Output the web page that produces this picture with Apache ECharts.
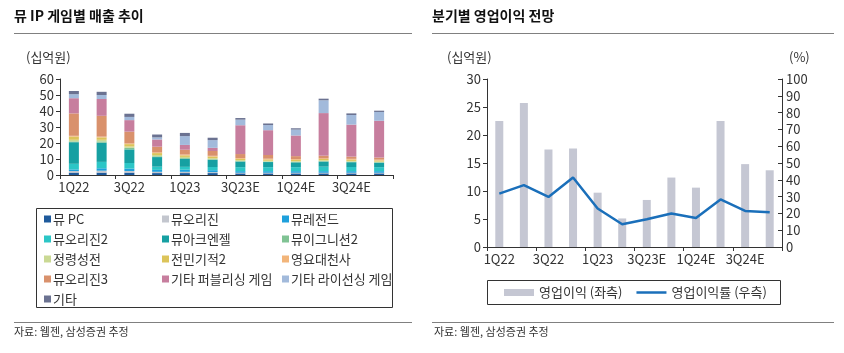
<!DOCTYPE html>
<html>
<head>
<meta charset="utf-8">
<script src="https://cdn.jsdelivr.net/npm/echarts@6/dist/echarts.min.js"></script>
<style>
html,body{margin:0;padding:0;background:#fff;}
#main{width:844px;height:353px;}
</style>
</head>
<body>
<div id="main"></div>
<script>
// 분기
var quarters = ['1Q22','2Q22','3Q22','4Q22','1Q23','2Q23','3Q23E','4Q23E','1Q24E','2Q24E','3Q24E','4Q24E'];

// 뮤 IP 게임별 매출 (십억원)
var muPC        = [1.5, 1.5, 1.5, 1.2, 1.2, 1.2, 1.0, 1.0, 1.0, 1.0, 1.0, 1.0];
var muOrigin    = [1.0, 1.2, 1.0, 0.8, 0.8, 0.6, 0.4, 0.4, 0.4, 0.4, 0.4, 0.4];
var muLegend    = [1.0, 1.5, 1.5, 1.2, 1.3, 1.2, 1.0, 1.0, 1.0, 1.0, 1.0, 1.0];
var muOrigin2   = [3.5, 4.0, 3.5, 2.0, 1.8, 2.0, 2.5, 2.5, 2.5, 2.8, 2.6, 2.5];
var muArchangel = [13.5, 12.0, 8.5, 6.0, 5.0, 4.5, 3.5, 3.2, 3.0, 3.2, 3.0, 2.8];
var muIgnition2 = [0.5, 0.8, 1.0, 0.5, 0.5, 0.4, 0.3, 0.3, 0.3, 0.3, 0.3, 0.3];
var spirit      = [1.0, 1.0, 0.8, 0.8, 0.7, 0.6, 0.6, 0.5, 0.5, 0.5, 0.5, 0.4];
var miracle2    = [2.0, 1.5, 1.5, 1.2, 1.0, 1.0, 0.8, 0.8, 0.8, 0.8, 0.8, 0.7];
var archAngel   = [0.5, 0.5, 0.5, 0.5, 0.5, 0.5, 0.5, 0.5, 0.5, 0.5, 0.5, 0.5];
var muOrigin3   = [14.0, 13.0, 7.3, 3.5, 3.0, 3.0, 2.5, 2.3, 1.8, 1.6, 1.4, 1.3];
var etcPublish  = [9.5, 10.5, 7.2, 4.5, 3.0, 2.0, 18.0, 15.5, 12.9, 26.6, 20.0, 23.0];
var etcLicense  = [2.5, 2.5, 2.0, 1.3, 5.5, 4.8, 3.5, 3.2, 3.7, 8.0, 6.0, 5.5];
var etcOther    = [2.0, 2.0, 2.0, 1.8, 2.0, 1.5, 1.0, 1.0, 0.8, 1.0, 1.0, 0.8];

// 영업이익 (십억원), 영업이익률 (%)
var opProfit = [22.5, 25.7, 17.4, 17.6, 9.7, 5.1, 8.4, 12.4, 10.6, 22.5, 14.8, 13.7];
var opMargin = [31.8, 36.8, 29.8, 41.4, 22.9, 13.5, 16.5, 19.9, 17.3, 28.3, 21.5, 20.7];

var stackDefs = [
	['뮤 PC', muPC, '#1e5a9c'],
	['뮤오리진', muOrigin, '#c3c6ce'],
	['뮤레전드', muLegend, '#1ea0dc'],
	['뮤오리진2', muOrigin2, '#2cc6c6'],
	['뮤아크엔젤', muArchangel, '#16a0a2'],
	['뮤이그니션2', muIgnition2, '#80c394'],
	['정령성전', spirit, '#cad994'],
	['전민기적2', miracle2, '#dcc45a'],
	['영요대천사', archAngel, '#f2b57a'],
	['뮤오리진3', muOrigin3, '#d9916c'],
	['기타 퍼블리싱 게임', etcPublish, '#c77e9e'],
	['기타 라이선싱 게임', etcLicense, '#a2badb'],
	['기타', etcOther, '#6b7291']
];

var FONT = '"Noto Sans CJK KR", "Noto Sans", sans-serif';
var TXT = '#333';

var chart = echarts.init(document.getElementById('main'));

var series = [];
for (var i = 0; i < stackDefs.length; i++) {
	series.push({
		name: stackDefs[i][0],
		type: 'bar',
		stack: 'rev',
		xAxisIndex: 0,
		yAxisIndex: 0,
		barWidth: 10,
		itemStyle: { color: stackDefs[i][2] },
		data: stackDefs[i][1]
	});
}
series.push({
	name: '영업이익 (좌측)',
	type: 'bar',
	xAxisIndex: 1,
	yAxisIndex: 1,
	barWidth: 8,
	itemStyle: { color: '#c5c7d3' },
	data: opProfit
});
series.push({
	name: '영업이익률 (우측)',
	type: 'line',
	xAxisIndex: 1,
	yAxisIndex: 2,
	symbol: 'none',
	lineStyle: { color: '#1a6fba', width: 2.5 },
	itemStyle: { color: '#1a6fba' },
	data: opMargin
});

function legendCol(left, names) {
	return {
		orient: 'vertical',
		left: left,
		top: 212,
		padding: 0,
		itemGap: 6,
		itemWidth: 7,
		itemHeight: 7,
		icon: 'rect',
		selectedMode: false,
		textStyle: { fontFamily: FONT, fontSize: 13, color: TXT, lineHeight: 14, padding: [0, 0, 0, -3] },
		data: names
	};
}

var axisLabelStyle = { fontFamily: FONT, fontSize: 13, color: TXT };
var axisLineStyle = { show: true, lineStyle: { color: '#333', width: 1 } };

var option = {
	animation: false,
	textStyle: { fontFamily: FONT },
	grid: [
		{ left: 60, right: 451, top: 79, bottom: 178, containLabel: false },
		{ left: 487, right: 62, top: 79, bottom: 106, containLabel: false }
	],
	legend: [
		legendCol(44, ['뮤 PC', '뮤오리진2', '정령성전', '뮤오리진3', '기타']),
		legendCol(162, ['뮤오리진', '뮤아크엔젤', '전민기적2', '기타 퍼블리싱 게임']),
		legendCol(282, ['뮤레전드', '뮤이그니션2', '영요대천사', '기타 라이선싱 게임']),
		{
			orient: 'horizontal',
			left: 504,
			top: 286,
			padding: 0,
			itemGap: 14,
			itemWidth: 30,
			itemHeight: 7,
			selectedMode: false,
			textStyle: { fontFamily: FONT, fontSize: 13, color: TXT },
			data: [
				{ name: '영업이익 (좌측)', icon: 'rect' },
				{ name: '영업이익률 (우측)', icon: 'path://M0,0L30,0L30,2.5L0,2.5Z' }
			]
		}
	],
	xAxis: [
		{
			type: 'category', gridIndex: 0, data: quarters,
			axisLine: axisLineStyle,
			axisTick: { show: true, interval: 1, length: 4, lineStyle: { color: '#333' } },
			axisLabel: Object.assign({ interval: 1, margin: 6 }, axisLabelStyle)
		},
		{
			type: 'category', gridIndex: 1, data: quarters,
			axisLine: axisLineStyle,
			axisTick: { show: true, interval: 1, length: 4, lineStyle: { color: '#333' } },
			axisLabel: Object.assign({ interval: 1, margin: 6 }, axisLabelStyle)
		}
	],
	yAxis: [
		{
			type: 'value', gridIndex: 0, min: 0, max: 60, interval: 10,
			axisLine: axisLineStyle,
			axisTick: { show: true, length: 4, lineStyle: { color: '#333' } },
			splitLine: { show: false },
			axisLabel: Object.assign({ margin: 6 }, axisLabelStyle)
		},
		{
			type: 'value', gridIndex: 1, min: 0, max: 30, interval: 5,
			axisLine: axisLineStyle,
			axisTick: { show: true, length: 4, lineStyle: { color: '#333' } },
			splitLine: { show: false },
			axisLabel: Object.assign({ margin: 6 }, axisLabelStyle)
		},
		{
			type: 'value', gridIndex: 1, position: 'right', min: 0, max: 100, interval: 10,
			axisLine: axisLineStyle,
			axisTick: { show: true, inside: true, length: 4, lineStyle: { color: '#333' } },
			splitLine: { show: false },
			axisLabel: Object.assign({ margin: 4 }, axisLabelStyle)
		}
	],
	graphic: [
		{ type: 'text', left: 14, top: 9, style: { text: '뮤 IP 게임별 매출 추이', font: 'bold 14px ' + FONT, fill: '#111' } },
		{ type: 'text', left: 432, top: 9, style: { text: '분기별 영업이익 전망', font: 'bold 14px ' + FONT, fill: '#111' } },
		{ type: 'line', shape: { x1: 14, y1: 33.5, x2: 412, y2: 33.5 }, style: { stroke: '#808080', lineWidth: 1 } },
		{ type: 'line', shape: { x1: 432, y1: 33.5, x2: 834, y2: 33.5 }, style: { stroke: '#808080', lineWidth: 1 } },
		{ type: 'line', shape: { x1: 14, y1: 322.5, x2: 412, y2: 322.5 }, style: { stroke: '#808080', lineWidth: 1 } },
		{ type: 'line', shape: { x1: 432, y1: 322.5, x2: 834, y2: 322.5 }, style: { stroke: '#808080', lineWidth: 1 } },
		{ type: 'text', left: 14, top: 326, style: { text: '자료: 웹젠, 삼성증권 추정', font: '11px ' + FONT, fill: TXT } },
		{ type: 'text', left: 434, top: 326, style: { text: '자료: 웹젠, 삼성증권 추정', font: '11px ' + FONT, fill: TXT } },
		{ type: 'text', left: 26, top: 51, style: { text: '(십억원)', font: '13px ' + FONT, fill: TXT } },
		{ type: 'text', left: 447, top: 51, style: { text: '(십억원)', font: '13px ' + FONT, fill: TXT } },
		{ type: 'text', left: 789, top: 51, style: { text: '(%)', font: '13px ' + FONT, fill: TXT } },
		{ type: 'rect', shape: { x: 36.5, y: 208.5, width: 356, height: 99 }, style: { fill: 'none', stroke: '#333', lineWidth: 1 } },
		{ type: 'rect', shape: { x: 487.5, y: 280.5, width: 293, height: 24 }, style: { fill: 'none', stroke: '#333', lineWidth: 1 } }
	],
	series: series
};

chart.setOption(option);
</script>
</body>
</html>
